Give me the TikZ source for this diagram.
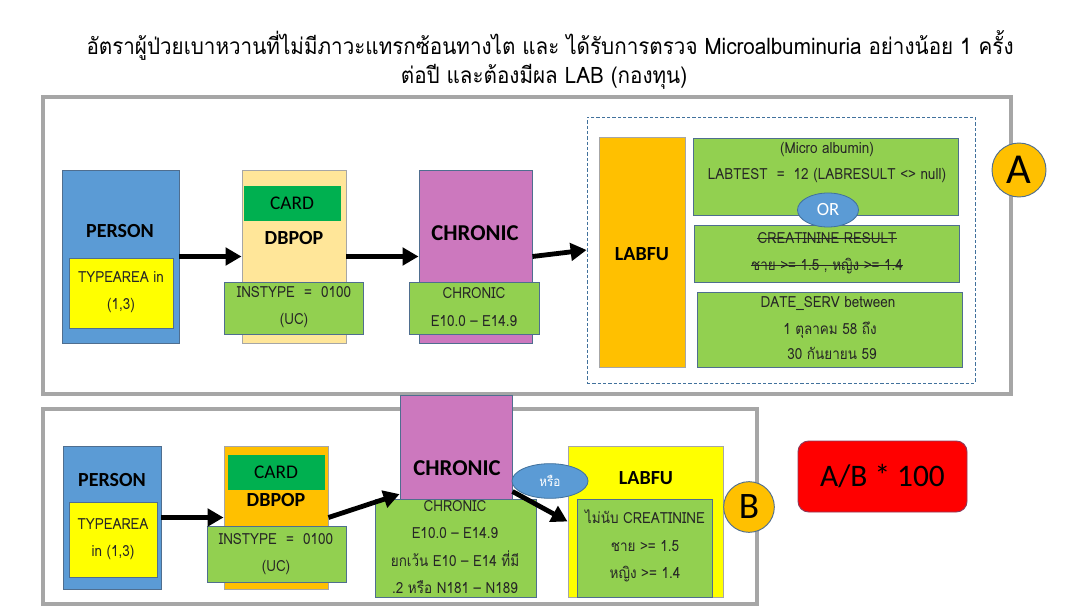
\documentclass[tikz,border=0pt]{standalone}
\usepackage{fontspec}
\setmainfont{Carlito}
\newfontfamily\thfont[Script=Thai,FakeStretch=0.88]{Loma}
\newfontfamily\thtitle[Script=Thai,FakeStretch=0.91]{Loma}
\usetikzlibrary{arrows.meta,fit,shapes.geometric}
\definecolor{cblue}{HTML}{5B9BD5}
\definecolor{cblueb}{HTML}{41719C}
\definecolor{cyel}{HTML}{FFFF00}
\definecolor{cpeach}{HTML}{FFE699}
\definecolor{cdgreen}{HTML}{00B050}
\definecolor{clime}{HTML}{92D050}
\definecolor{cpink}{HTML}{CC78BE}
\definecolor{corange}{HTML}{FFC000}
\definecolor{cframe}{HTML}{A6A6A6}
\definecolor{cbord}{HTML}{4F6E8F}
\definecolor{ctxt}{HTML}{262626}
\definecolor{cred}{HTML}{FF0000}
\definecolor{credb}{HTML}{8E3A59}
\begin{document}
\begin{tikzpicture}[x=0.75pt,y=-0.75pt,
  frame/.style={draw=cframe, line width=2.3pt, inner sep=0pt},
  box/.style={draw=cbord, line width=0.7pt, inner sep=0pt},
  lab/.style={font=\fontsize{15}{17}\selectfont\bfseries, inner sep=0pt, text=black},
  biglab/.style={font=\fontsize{17}{19}\selectfont\bfseries, inner sep=0pt, text=black},
  cardt/.style={font=\fontsize{14.5}{16}\selectfont, inner sep=0pt, text=black},
  tx/.style={font=\thfont\fontsize{11.5}{20.5}\selectfont, inner sep=0pt, text=ctxt, align=center},
  titletx/.style={font=\thtitle\fontsize{17}{19}\selectfont, inner sep=0pt, text=black},
  arr/.style={line width=3.6pt, -{Triangle[length=12pt,width=13pt]}},
  strike/.style={line width=0.7pt, ctxt},
  badge/.style={circle, fill=corange, draw=cbord, line width=0.7pt, inner sep=0pt, text=black}
]
\useasboundingbox (0,0) rectangle (1084,609);
\fill[white] (0,0) rectangle (1084,609);

% title
\node[titletx] (t1) at (550,45) {อัตราผู้ป่วยเบาหวานที่ไม่มีภาวะแทรกซ้อนทางไต และ ได้รับการตรวจ Microalbuminuria อย่างน้อย 1 ครั้ง};
\node[titletx] (t2) at (544,77) {ต่อปี และต้องมีผล LAB (กองทุน)};

% frames
\node[frame, fit={(43,97)(1011,394)}] (fa) {};
\node[frame, fit={(43,409)(757,604)}] (fb) {};

% ---------- top row ----------
\node[box, fill=cblue, fit={(62,170)(179,343)}] (p1) {};
\node[lab] (p1t) at (120,231) {PERSON};
\node[box, fill=cyel, fit={(69,258)(173,328)}] (p1y) {};
\node[tx] (p1yt) at (121,292) {TYPEAREA in\\(1,3)};

\node[box, draw=cframe, fill=cpeach, fit={(242,170)(346,343)}] (d1) {};
\node[box, draw=cdgreen, fill=cdgreen, fit={(244,186)(340,220)}] (d1c) {};
\node[cardt] (d1ct) at (d1c) {CARD};
\node[lab] (d1t) at (294,238) {DBPOP};
\node[box, fill=clime, fit={(224,282)(363,334)}] (d1g) {};
\node[tx] (d1gt) at (294,307) {INSTYPE ~=~ 0100\\(UC)};

\node[box, fill=cpink, fit={(419,170)(532,343)}] (c1) {};
\node[biglab] (c1t) at (475,233) {CHRONIC};
\node[box, fill=clime, fit={(409,282)(539,334)}] (c1g) {};
\node[tx] (c1gt) at (474,307) {CHRONIC\\E10.0 – E14.9};

\node[draw=cblueb, line width=0.6pt, dash pattern=on 2.5pt off 1.5pt, inner sep=0pt, fit={(587,117)(975,383)}] (dz) {};
\node[box, draw=cframe, fill=corange, fit={(599,137)(685,367)}] (l1) {};
\node[lab] (l1t) at (642,254) {LABFU};

\node[box, fill=clime, fit={(693,138)(958,215)}] (g1) {};
\node[tx] (g1a) at (827,150) {(Micro albumin)};
\node[tx] (g1b) at (827,176) {LABTEST ~=~ 12 (LABRESULT <> null)};
\node[box, fill=clime, fit={(694,225)(959,282)}] (g2) {};
\node[tx] (s1) at (827,238) {CREATININE RESULT};
\node[tx] (s2) at (827,266) {ชาย >= 1.5 , หญิง >= 1.4};
\draw[strike] ([yshift=3.5pt]s1.base west) -- ([yshift=3.5pt]s1.base east);
\draw[strike] ([yshift=3.5pt]s2.base west) -- ([yshift=3.5pt]s2.base east);
\node[box, fill=clime, fit={(697,292)(962,367)}] (g3) {};
\node[tx] (g3a) at (828,304) {DATE\_SERV between};
\node[tx] (g3b) at (830,330) {1 ตุลาคม 58 ถึง};
\node[tx] (g3c) at (832,353) {30 กันยายน 59};
\node[ellipse, fill=cblue, draw=cblueb, line width=0.6pt, minimum width=45.75pt, minimum height=25.5pt, inner sep=0pt, text=white, font=\fontsize{14}{16}\selectfont] (or) at (828,210) {OR};

\node[badge, minimum size=40.5pt, font=\fontsize{32}{32}\selectfont] (ca) at (1019,170) {A};

\draw[arr] (p1.east) -- (d1.west);
\draw[arr] (d1.east) -- (c1.west);
\draw[arr] (c1.east) -- (dz.west);

% ---------- bottom row ----------
\node[box, fill=cblue, fit={(63,446)(161,589)}] (p2) {};
\node[lab] (p2t) at (112,480) {PERSON};
\node[box, fill=cyel, fit={(69,502)(157,577)}] (p2y) {};
\node[tx] (p2yt) at (113,539.5) {TYPEAREA\\in (1,3)};

\node[box, draw=cframe, fill=corange, fit={(224,446)(328,589)}] (d2) {};
\node[box, draw=cdgreen, fill=cdgreen, fit={(228,455)(324,489)}] (d2c) {};
\node[cardt] (d2ct) at (d2c) {CARD};
\node[lab] (d2t) at (276,500) {DBPOP};
\node[box, fill=clime, fit={(207,526)(346,582)}] (d2g) {};
\node[tx] (d2gt) at (276,554) {INSTYPE ~=~ 0100\\(UC)};

\node[box, fill=cpink, fit={(400,395)(512,499)}] (c2) {};
\node[biglab] (c2t) at (457,468) {CHRONIC};
\node[box, fill=clime, fit={(375,499)(536,597)}] (c2g) {};
\node[tx] (c2gt) at (455,547) {CHRONIC\\E10.0 – E14.9\\ยกเว้น E10 – E14 ที่มี\\.2 หรือ N181 – N189};

\node[box, draw=cframe, fill=cyel, fit={(568,446)(723,597)}] (l2) {};
\node[lab] (l2t) at (646,478) {LABFU};
\node[box, fill=clime, fit={(577,499)(712,597)}] (l2g) {};
\node[tx] (l2gt) at (645,546) {ไม่นับ CREATININE\\ชาย >= 1.5\\หญิง >= 1.4};

\draw[arr] (p2.east) -- (d2.west);
\draw[arr] (d2.east) -- ([yshift=4pt]c2.south west);
\draw[arr] ([yshift=6pt]c2.south east) -- (l2.west);

\node[ellipse, fill=cblue, draw=cblueb, line width=0.6pt, minimum width=57pt, minimum height=26pt, inner sep=0pt, text=white, font=\thfont\fontsize{10}{12}\selectfont] (or2) at (550,481) {หรือ};

\node[badge, minimum size=38pt, font=\fontsize{28}{28}\selectfont] (cb) at (749,507) {B};

\node[draw=credb, line width=0.7pt, fill=cred, rounded corners=8pt, inner sep=0pt, fit={(798,441)(967,512)}] (rb) {};
\node[font=\fontsize{23.5}{26}\selectfont, text=black, inner sep=0pt] (rbt) at (rb) {A/B * 100};
\end{tikzpicture}
\end{document}
